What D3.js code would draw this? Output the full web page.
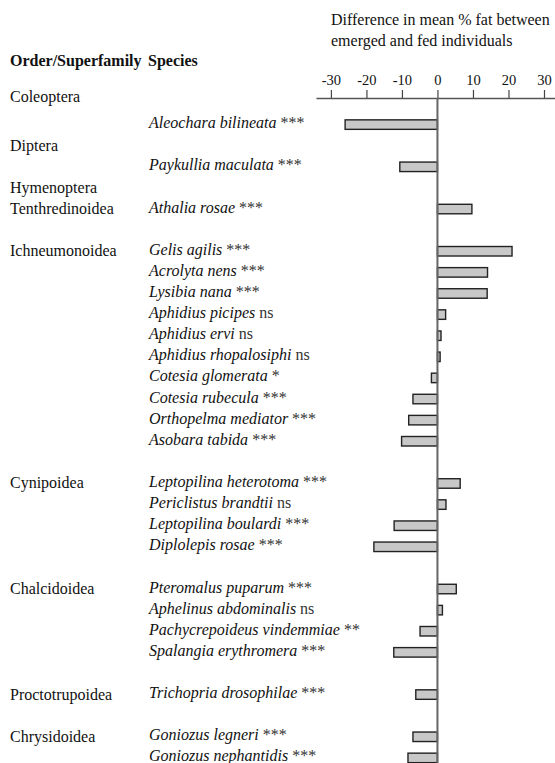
<!DOCTYPE html>
<html>
<head>
<meta charset="utf-8">
<script src="https://cdn.jsdelivr.net/npm/d3@7"></script>
<style>
  body { margin: 0; background: #fff; }
</style>
</head>
<body>
<svg id="chart" width="555" height="763"></svg>
<script>
// species rows, "" = blank spacer row
var species = ["Aleochara bilineata", "", "Paykullia maculata", "", "Athalia rosae", "",
  "Gelis agilis", "Acrolyta nens", "Lysibia nana", "Aphidius picipes", "Aphidius ervi",
  "Aphidius rhopalosiphi", "Cotesia glomerata", "Cotesia rubecula", "Orthopelma mediator",
  "Asobara tabida", "", "Leptopilina heterotoma", "Periclistus brandtii", "Leptopilina boulardi",
  "Diplolepis rosae", "", "Pteromalus puparum", "Aphelinus abdominalis", "Pachycrepoideus vindemmiae",
  "Spalangia erythromera", "", "Trichopria drosophilae", "", "Goniozus legneri", "Goniozus nephantidis"];
var signif = ["***", "", "***", "", "***", "",
  "***", "***", "***", "ns", "ns",
  "ns", "*", "***", "***",
  "***", "", "***", "ns", "***",
  "***", "", "***", "ns", "**",
  "***", "", "***", "", "***", "***"];
var fatDiff = [-26, null, -10.6, null, 9.7, null,
  21.0, 14.1, 14.0, 2.3, 1.0,
  0.75, -1.7, -6.9, -8.1,
  -10.1, null, 6.4, 2.4, -12.2,
  -17.9, null, 5.3, 1.4, -4.9,
  -12.3, null, -6.1, null, -6.9, -8.3];
var orders = ["Coleoptera", "Diptera", "Hymenoptera", "Tenthredinoidea", "Ichneumonoidea",
  "Cynipoidea", "Chalcidoidea", "Proctotrupoidea", "Chrysidoidea"];
var orderRow = [-1, 1, 3, 4, 6, 17, 22, 27, 29];
var ticks = [-30, -20, -10, 0, 10, 20, 30];

var serif = "'Liberation Serif'";
var svg = d3.select("#chart");

var x = d3.scaleLinear().domain([-34.2, 33.1]).range([316, 555]);
var y = d3.scaleLinear().domain([0, species.length - 1]).range([124.6, 757.9]);
var barH = 9.5;
var axisY = 98;

function txt(sx, sy, s, size) {
  return svg.append("text").attr("x", sx).attr("y", sy)
    .style("font-family", serif).style("font-size", (size || 16) + "px").attr("fill", "#111").text(s);
}

// title
txt(331, 25, "Difference in mean % fat between");
txt(331, 46, "emerged and fed individuals");

// headers
txt(10, 66, "Order/Superfamily").style("font-weight", "bold");
txt(148, 66, "Species").style("font-weight", "bold");

// axis
var axis = d3.axisTop(x).tickValues(ticks).tickSize(8).tickSizeOuter(0).tickPadding(5);
var g = svg.append("g").attr("transform", "translate(0," + axisY + ")").call(axis)
  .attr("font-family", null);
g.select(".domain").attr("stroke", "#555").attr("stroke-width", 1.5);
g.selectAll(".tick line").attr("stroke", "#444").attr("stroke-width", 1.2);
g.selectAll(".tick text").attr("fill", "#111")
  .style("font-family", serif).style("font-size", "14.5px")
  .text(function (d) { return d < 0 ? "-" + (-d) : d; });

// order labels
svg.selectAll("text.order").data(orders).enter().append("text")
  .attr("class", "order")
  .attr("x", 10)
  .attr("y", function (d, i) { return y(orderRow[i]) + 5 - (i === 0 ? 6 : 0); })
  .style("font-family", serif).style("font-size", "16px").attr("fill", "#111")
  .text(function (d) { return d; });

// species labels
var rows = species.map(function (s, i) { return { name: s, sig: signif[i], v: fatDiff[i], i: i }; })
  .filter(function (d) { return d.name !== ""; });

var lab = svg.selectAll("text.sp").data(rows).enter().append("text")
  .attr("class", "sp")
  .attr("x", 149)
  .attr("y", function (d) { return y(d.i) + 3.5; })
  .style("font-family", serif).style("font-size", "16px").attr("fill", "#111");
lab.append("tspan").style("font-style", "italic").text(function (d) { return d.name; });
lab.append("tspan").attr("fill", "#333").text(function (d) { return " " + d.sig; });

// bars
svg.selectAll("rect.bar").data(rows).enter().append("rect")
  .attr("class", "bar")
  .attr("x", function (d) { return x(Math.min(0, d.v)); })
  .attr("y", function (d) { return y(d.i) - barH / 2; })
  .attr("width", function (d) { return Math.abs(x(d.v) - x(0)); })
  .attr("height", barH)
  .attr("fill", "#c8c8c8")
  .attr("stroke", "#222")
  .attr("stroke-width", 1.4);

// zero line
svg.append("line")
  .attr("x1", x(0)).attr("x2", x(0))
  .attr("y1", axisY).attr("y2", 763)
  .attr("stroke", "#666").attr("stroke-width", 2);
</script>
</body>
</html>
